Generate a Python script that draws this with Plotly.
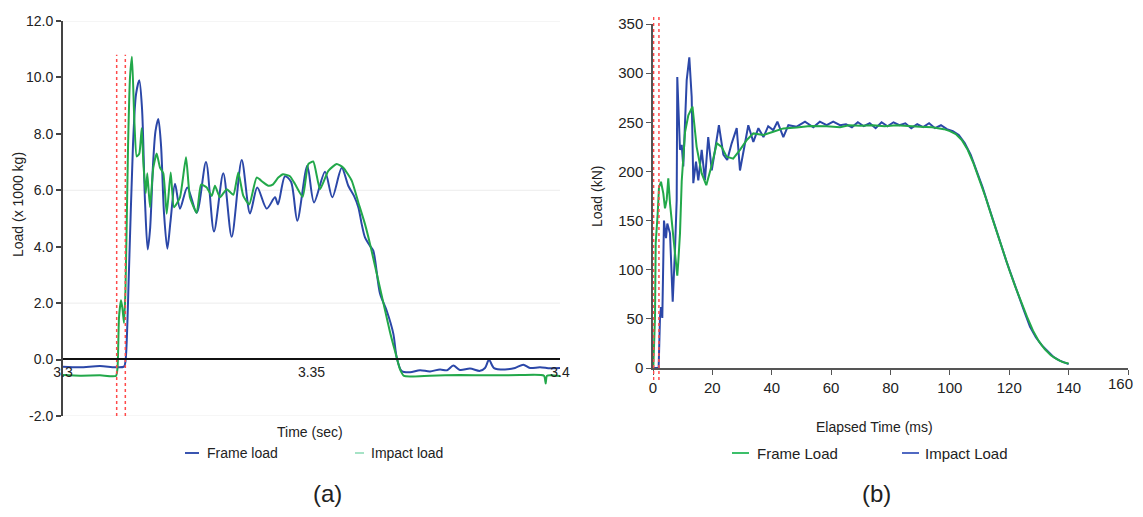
import plotly.graph_objects as go

# ---------------- (a) data: Time (sec) vs Load (x 1000 kg) ----------------
a_frame_t = [3.3000, 3.30342, 3.30744, 3.31046, 3.31227, 3.31258, 3.31328, 3.31408, 3.31469, 3.31535,
             3.31590, 3.31650, 3.31704, 3.31751, 3.31811, 3.31861, 3.31918, 3.31972, 3.32032, 3.32099,
             3.32163, 3.32254, 3.32354, 3.32501, 3.32690, 3.32877, 3.33038, 3.33225, 3.33394, 3.33596,
             3.33763, 3.33909, 3.34099, 3.34266, 3.34326, 3.34467, 3.34588, 3.34714, 3.34915, 3.35050,
             3.35272, 3.35419, 3.35608, 3.35740, 3.35855, 3.35942, 3.36010, 3.36076, 3.36177, 3.36243,
             3.36378, 3.36513, 3.36646, 3.36714, 3.36815, 3.36982, 3.37183, 3.37384, 3.37586, 3.37726,
             3.37853, 3.37988, 3.38189, 3.38390, 3.38491, 3.38571, 3.38672, 3.38893, 3.39095, 3.39262,
             3.39396, 3.39598, 3.39799, 3.40000]
a_frame_v = [-0.25, -0.27, -0.23, -0.27, -0.25, -0.05, 3.2, 7.6, 9.4, 9.9,
             8.9, 5.6, 3.9, 4.6, 6.9, 8.1, 8.53, 7.6, 5.2, 3.93,
             4.9, 6.23, 5.35, 6.1, 5.2, 7.0, 4.54, 6.6, 4.35, 7.07,
             5.18, 6.1, 5.35, 5.75, 5.5, 6.5, 6.3, 4.92, 6.87, 5.57,
             6.66, 5.75, 6.8, 6.16, 5.8, 5.4, 4.8, 4.33, 4.03, 3.86,
             2.34, 1.73, 0.92, 0.08, -0.41, -0.45, -0.38, -0.42, -0.35, -0.38,
             -0.21, -0.37, -0.32, -0.40, -0.30, -0.01, -0.30, -0.35, -0.30, -0.18,
             -0.30, -0.27, -0.31, -0.30]

a_impact_t = [3.3000, 3.30342, 3.30744, 3.31066, 3.31097, 3.31127, 3.31167, 3.31197, 3.31227, 3.31258,
              3.31308, 3.31348, 3.31388, 3.31435, 3.31483, 3.31535, 3.31584, 3.31616, 3.31664, 3.31696,
              3.31751, 3.31817, 3.31885, 3.31952, 3.32018, 3.32087, 3.32167, 3.32233, 3.32354, 3.32475,
              3.32555, 3.32690, 3.32777, 3.32891, 3.32992, 3.33058, 3.33159, 3.33294, 3.33427, 3.33527,
              3.33628, 3.33748, 3.33897, 3.34030, 3.34131, 3.34219, 3.34332, 3.34427, 3.34567, 3.34668,
              3.34823, 3.34936, 3.35036, 3.35171, 3.35338, 3.35507, 3.35640, 3.35809, 3.35942, 3.36076,
              3.36177, 3.36378, 3.36579, 3.36680, 3.36781, 3.36861, 3.37384, 3.37988, 3.38592, 3.39195,
              3.39678, 3.39712, 3.39738, 3.40000]
a_impact_v = [-0.55, -0.57, -0.56, -0.58, -0.3, 1.5, 2.1, 1.8, 1.3, 2.5,
              7.5, 10.0, 10.73, 8.5, 7.2, 7.3, 8.2, 7.0, 5.9, 6.6,
              5.4, 6.8, 7.3, 6.8, 6.6, 5.17, 6.63, 5.4, 5.75, 7.17,
              5.75, 5.2, 6.2, 6.1, 5.8, 6.16, 5.75, 6.04, 5.84, 6.63,
              5.8, 5.5, 6.45, 6.28, 6.16, 6.2, 6.45, 6.57, 6.5, 6.22,
              5.77, 6.93, 7.02, 6.04, 6.69, 6.93, 6.8, 6.34, 5.57, 4.8,
              4.1, 2.54, 0.98, 0.3, -0.35, -0.58, -0.57, -0.55, -0.56, -0.55,
              -0.57, -0.85, -0.57, -0.58]

a_events_t = [3.3108, 3.31254]
a_event_span = [-2.0, 10.8]
a_yticks = [-2, 0, 2, 4, 6, 8, 10, 12]
a_yticktext = ["-2.0", "0.0", "2.0", "4.0", "6.0", "8.0", "10.0", "12.0"]
a_xticks = [3.3, 3.35, 3.4]
a_xticktext = ["3.3", "3.35", "3.4"]
a_gridvals = [12, 6, 2, -2]

# ---------------- (b) data: Elapsed Time (ms) vs Load (kN) ----------------
b_frame_t = [0, 0.1, 0.67, 0.91, 1.58, 2.02, 2.69, 3.47, 4.04, 4.61,
             5.15, 5.73, 6.84, 7.65, 8.18, 8.52, 9.09, 9.67, 10.8, 11.9,
             13.3, 14.7, 16.4, 17.95, 19.8, 21.5, 23.1, 24.8, 27.0, 29.3,
             31.6, 33.8, 37.2, 40.5, 43.9, 48.4, 52.9, 58.5, 63.0, 66, 70, 74, 78,
             82, 86, 90, 94, 98, 100, 102, 104, 106, 108, 110,
             112, 114, 116, 118, 120, 122, 124, 126, 128, 130,
             132, 134, 136, 138, 140]
b_frame_v = [0, 0, 52, 127, 157, 184, 189.5, 177.7, 162.5, 171,
             193, 167.5, 133.6, 110, 94, 108, 137, 190, 240, 257,
             266, 225, 198, 186, 206.5, 228.6, 225, 215, 213, 222,
             232, 238.7, 237, 240.4, 243.8, 244.8, 246.2, 246, 245, 247, 246.5, 247, 246,
             247, 246, 245.5, 245, 243, 241, 238, 232, 222, 208, 192,
             174, 155, 136, 117, 100, 83, 67, 52, 38, 27,
             19, 13, 9, 6, 4.5]

b_impact_t = [0, 1.9, 2.36, 2.69, 3.13, 3.70, 4.38, 4.82, 5.73, 6.64,
              7.41, 7.98, 8.18, 9.09, 9.67, 10.2, 11.35, 12.23, 13.03, 13.57,
              14.48, 15.26, 16.4, 17.5, 18.6, 19.8, 20.9, 22.2, 23.7, 25.0,
              26.5, 28.2, 29.3, 31.3, 32.1, 33.8, 35.5, 37.2, 38.8, 40.5,
              41.9, 43.9, 45.6, 48.4, 51.2, 54.0, 56.2, 58.5, 60.7, 63.0,
              65, 67, 69, 71, 73, 75, 77, 79, 81, 83,
              85, 87, 89, 91, 93, 95, 97, 99, 101, 103,
              105, 107, 109, 111, 113, 115, 117, 119, 121, 123,
              125, 127, 129, 131, 133, 135, 137, 139, 140]
b_impact_v = [0, 0, 52, 62, 51, 150, 132, 147, 137, 67.5,
              120, 171, 296, 222, 227, 205, 293, 316, 276, 188,
              210, 191, 222, 191, 235, 201, 222, 247, 217, 211.6,
              228.6, 244, 201, 232, 247, 230, 244, 235, 246, 242,
              250.6, 235, 247, 245.5, 250.6, 244.9, 250.6, 247, 250.6, 247,
              248, 245, 250, 246, 249, 244, 250, 246, 250, 247,
              249, 244, 248, 245, 249, 244, 247, 243, 241, 237,
              229, 217, 201, 184, 165, 146, 127, 109, 92, 74,
              58, 42, 31, 23, 16.5, 11, 7.5, 5, 4]

b_events_t = [0.2, 2.0]
b_yticks = [0, 50, 100, 150, 200, 250, 300, 350]
b_xticks = [0, 20, 40, 60, 80, 100, 120, 140, 160]
b_xticktext = ["0", "20", "40", "60", "80", "100", "120", "140", ""]
b_last_xlabel = "160"

# ---------------- styling ----------------
# The page keeps the browser's 8px body margin, so the figure is sized to fit
# inside the window and positions are given in window pixels.
OFF = 8
W, H = 1143 - 2 * OFF, 517 - 2 * OFF
BLUE = "#2b47a8"
GREEN = "#22a84a"
RED = "#ff4a4a"
FONT = "Liberation Sans, Arial, sans-serif"
TXT = "#222222"


def px(x):
    return (x - OFF) / W


def py(y):
    return (H - (y - OFF)) / H


fig = go.Figure()

# (a) traces
fig.add_trace(go.Scatter(x=a_frame_t, y=a_frame_v, mode="lines", name="Frame load",
                         line=dict(color=BLUE, width=2, shape="spline", smoothing=0.8),
                         xaxis="x", yaxis="y", showlegend=False))
fig.add_trace(go.Scatter(x=a_impact_t, y=a_impact_v, mode="lines", name="Impact load",
                         line=dict(color=GREEN, width=2, shape="spline", smoothing=0.5),
                         xaxis="x", yaxis="y", showlegend=False))
for t in a_events_t:
    fig.add_trace(go.Scatter(x=[t, t], y=a_event_span, mode="lines",
                             line=dict(color=RED, width=1.5, dash="dot"),
                             xaxis="x", yaxis="y", showlegend=False, hoverinfo="skip"))

# (b) traces
fig.add_trace(go.Scatter(x=b_impact_t, y=b_impact_v, mode="lines", name="Impact Load",
                         line=dict(color=BLUE, width=2),
                         xaxis="x2", yaxis="y2", showlegend=False))
fig.add_trace(go.Scatter(x=b_frame_t, y=b_frame_v, mode="lines", name="Frame Load",
                         line=dict(color=GREEN, width=2),
                         xaxis="x2", yaxis="y2", showlegend=False))

shapes = []
for g in a_gridvals:
    shapes.append(dict(type="line", xref="x", yref="y", x0=a_xticks[0], x1=a_xticks[-1], y0=g, y1=g,
                       line=dict(color="#ececec", width=1), layer="below"))
for t in b_events_t:
    shapes.append(dict(type="line", xref="x2", yref="paper", x0=t, x1=t, y0=py(380), y1=py(15),
                       line=dict(color=RED, width=1.5, dash="dot")))

legend_items = [
    (185, 199, "#3a55b0", 205, "Frame load", 14),
    (355, 364, "#a6e3c6", 369, "Impact load", 14),
    (732, 749, "#3cbf6a", 755, "Frame Load", 15),
    (902, 919, "#5069c2", 923, "Impact Load", 15),
]
annotations = []
for x0, x1, col, tx, label, fs in legend_items:
    shapes.append(dict(type="line", xref="paper", yref="paper", x0=px(x0), x1=px(x1),
                       y0=py(453), y1=py(453), line=dict(color=col, width=2)))
    annotations.append(dict(text=label, x=px(tx), y=py(453), xref="paper", yref="paper",
                            xanchor="left", yanchor="middle", showarrow=False,
                            font=dict(family=FONT, size=fs, color=TXT)))

# last x tick label of (b), kept inside the page edge
annotations.append(dict(text=b_last_xlabel, x=1.0, y=py(383), xref="paper", yref="paper",
                        xanchor="right", yanchor="middle", showarrow=False,
                        font=dict(family=FONT, size=15, color=TXT)))

annotations += [
    dict(text="Load (x 1000 kg)", x=px(18), y=py(205), textangle=-90, yanchor="middle",
         font=dict(family=FONT, size=14, color=TXT)),
    dict(text="Time (sec)", x=px(310), y=py(432), yanchor="middle",
         font=dict(family=FONT, size=14, color=TXT)),
    dict(text="Load (kN)", x=px(597), y=py(197), textangle=-90, yanchor="middle",
         font=dict(family=FONT, size=14, color=TXT)),
    dict(text="Elapsed Time (ms)", x=px(874), y=py(427), yanchor="middle",
         font=dict(family=FONT, size=14, color=TXT)),
    dict(text="(a)", x=px(327), y=0, yanchor="bottom", font=dict(family=FONT, size=24, color=TXT)),
    dict(text="(b)", x=px(877), y=0, yanchor="bottom", font=dict(family=FONT, size=24, color=TXT)),
]
for an in annotations[-6:]:
    an.update(xref="paper", yref="paper", showarrow=False, xanchor="center")

fig.update_layout(
    width=W, height=H, autosize=False,
    margin=dict(l=0, r=0, t=0, b=0, autoexpand=False),
    paper_bgcolor="white", plot_bgcolor="white",
    font=dict(family=FONT, color=TXT),
    showlegend=False,
    shapes=shapes, annotations=annotations,
    xaxis=dict(domain=[px(63), px(560)], range=[3.3, 3.4], anchor="free", position=py(359),
               automargin=False,
               showline=True, linecolor="#111111", linewidth=1.5, ticks="",
               tickvals=a_xticks, ticktext=a_xticktext, tickfont=dict(size=14, color=TXT),
               showgrid=False, zeroline=False),
    yaxis=dict(domain=[py(416), py(21)], range=[-2, 12], anchor="x", automargin=False,
               showline=True, linecolor="#444444", linewidth=2, ticks="outside", ticklen=5,
               tickcolor="#444444", tickwidth=1.5, tickvals=a_yticks, ticktext=a_yticktext,
               tickfont=dict(size=14, color=TXT), showgrid=False, zeroline=False),
    xaxis2=dict(domain=[px(653), px(1128)], range=[0, 160], anchor="y2", automargin=False,
                showline=True, linecolor="#555555", linewidth=1.5, ticks="outside", ticklen=5,
                tickcolor="#555555", tickvals=b_xticks, ticktext=b_xticktext,
                tickfont=dict(size=15, color=TXT), showgrid=False, zeroline=False),
    yaxis2=dict(domain=[py(368), py(24)], range=[0, 350], anchor="x2", automargin=False,
                showline=True, linecolor="#555555", linewidth=1.5, ticks="outside", ticklen=5,
                tickcolor="#555555", tickvals=b_yticks, tickfont=dict(size=15, color=TXT),
                showgrid=False, zeroline=False),
)

fig.write_html("out.html", config={"displayModeBar": False})
